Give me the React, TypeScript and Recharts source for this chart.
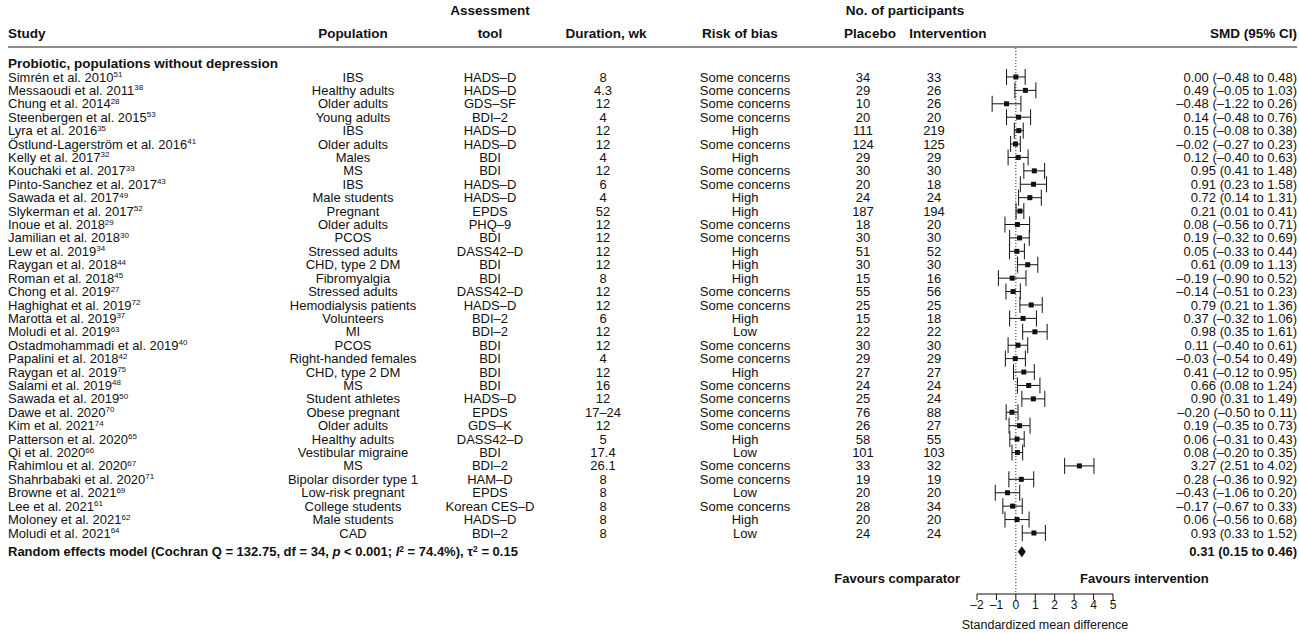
import React from "react"
import { ScatterChart, Scatter, XAxis, YAxis, ErrorBar, ReferenceLine } from "recharts"

const studies = [
  "Simrén et al. 2010", "Messaoudi et al. 2011", "Chung et al. 2014", "Steenbergen et al. 2015",
  "Lyra et al. 2016", "Östlund-Lagerström et al. 2016", "Kelly et al. 2017", "Kouchaki et al. 2017",
  "Pinto-Sanchez et al. 2017", "Sawada et al. 2017", "Slykerman et al. 2017", "Inoue et al. 2018",
  "Jamilian et al. 2018", "Lew et al. 2019", "Raygan et al. 2018", "Roman et al. 2018",
  "Chong et al. 2019", "Haghighat et al. 2019", "Marotta et al. 2019", "Moludi et al. 2019",
  "Ostadmohammadi et al. 2019", "Papalini et al. 2018", "Raygan et al. 2019", "Salami et al. 2019",
  "Sawada et al. 2019", "Dawe et al. 2020", "Kim et al. 2021", "Patterson et al. 2020",
  "Qi et al. 2020", "Rahimlou et al. 2020", "Shahrbabaki et al. 2020", "Browne et al. 2021",
  "Lee et al. 2021", "Moloney et al. 2021", "Moludi et al. 2021",
]
const refs = [
  51, 38, 28, 53, 35, 41, 32, 33, 43, 49, 52, 29, 30, 34, 44, 45, 27, 72,
  37, 63, 40, 42, 75, 48, 50, 70, 74, 65, 66, 67, 71, 69, 61, 62, 64,
]
const populations = [
  "IBS", "Healthy adults", "Older adults", "Young adults", "IBS", "Older adults", "Males", "MS",
  "IBS", "Male students", "Pregnant", "Older adults", "PCOS", "Stressed adults", "CHD, type 2 DM",
  "Fibromyalgia", "Stressed adults", "Hemodialysis patients", "Volunteers", "MI", "PCOS",
  "Right-handed females", "CHD, type 2 DM", "MS", "Student athletes", "Obese pregnant",
  "Older adults", "Healthy adults", "Vestibular migraine", "MS", "Bipolar disorder type 1",
  "Low-risk pregnant", "College students", "Male students", "CAD",
]
const tools = [
  "HADS–D", "HADS–D", "GDS–SF", "BDI–2", "HADS–D", "HADS–D", "BDI", "BDI", "HADS–D", "HADS–D",
  "EPDS", "PHQ–9", "BDI", "DASS42–D", "BDI", "BDI", "DASS42–D", "HADS–D", "BDI–2", "BDI–2",
  "BDI", "BDI", "BDI", "BDI", "HADS–D", "EPDS", "GDS–K", "DASS42–D", "BDI", "BDI–2",
  "HAM–D", "EPDS", "Korean CES–D", "HADS–D", "BDI–2",
]
const durations = [
  "8", "4.3", "12", "4", "12", "12", "4", "12", "6", "4", "52", "12", "12", "12", "12", "8",
  "12", "12", "6", "12", "12", "4", "12", "16", "12", "17–24", "12", "5", "17.4", "26.1",
  "8", "8", "8", "8", "8",
]
const risks = [
  "Some concerns", "Some concerns", "Some concerns", "Some concerns", "High", "Some concerns",
  "High", "Some concerns", "Some concerns", "High", "High", "Some concerns", "Some concerns",
  "High", "High", "High", "Some concerns", "Some concerns", "High", "Low", "Some concerns",
  "Some concerns", "High", "Some concerns", "Some concerns", "Some concerns", "Some concerns",
  "High", "Low", "Some concerns", "Some concerns", "Low", "Some concerns", "High", "Low",
]
const placebo = [
  34, 29, 10, 20, 111, 124, 29, 30, 20, 24, 187, 18, 30, 51, 30, 15, 55, 25,
  15, 22, 30, 29, 27, 24, 25, 76, 26, 58, 101, 33, 19, 20, 28, 20, 24,
]
const intervention = [
  33, 26, 26, 20, 219, 125, 29, 30, 18, 24, 194, 20, 30, 52, 30, 16, 56, 25,
  18, 22, 30, 29, 27, 24, 24, 88, 27, 55, 103, 32, 19, 20, 34, 20, 24,
]
const smd = [
  0.0, 0.49, -0.48, 0.14, 0.15, -0.02, 0.12, 0.95, 0.91, 0.72, 0.21, 0.08, 0.19, 0.05, 0.61,
  -0.19, -0.14, 0.79, 0.37, 0.98, 0.11, -0.03, 0.41, 0.66, 0.9, -0.2, 0.19, 0.06, 0.08, 3.27,
  0.28, -0.43, -0.17, 0.06, 0.93,
]
const ciLow = [
  -0.48, -0.05, -1.22, -0.48, -0.08, -0.27, -0.4, 0.41, 0.23, 0.14, 0.01, -0.56, -0.32, -0.33,
  0.09, -0.9, -0.51, 0.21, -0.32, 0.35, -0.4, -0.54, -0.12, 0.08, 0.31, -0.5, -0.35, -0.31,
  -0.2, 2.51, -0.36, -1.06, -0.67, -0.56, 0.33,
]
const ciHigh = [
  0.48, 1.03, 0.26, 0.76, 0.38, 0.23, 0.63, 1.48, 1.58, 1.31, 0.41, 0.71, 0.69, 0.44, 1.13,
  0.52, 0.23, 1.36, 1.06, 1.61, 0.61, 0.49, 0.95, 1.24, 1.49, 0.11, 0.73, 0.43, 0.35, 4.02,
  0.92, 0.2, 0.33, 0.68, 1.52,
]

const pooledSmd = 0.31
const pooledLow = 0.15
const pooledHigh = 0.46
const cochranQ = 132.75
const hetDf = 34
const hetP = "< 0.001"
const iSquared = 74.4
const tauSquared = 0.15

const groupTitle = "Probiotic, populations without depression"
const xTicks = [-2, -1, 0, 1, 2, 3, 4, 5]

// row positions (y axis is row index, top to bottom)
const HEADER_ROW = -5
const GROUP_ROW = -1
const POOLED_ROW = 35.4
const FAVOURS_ROW = 37.4

// column x positions
const COL = { study: 8, pop: 353, tool: 490, dur: 603, risk: 745, plac: 863, interv: 934, smd: 1297 }

const INK = "#111"
const FONT = "'Liberation Sans', Arial, Helvetica, sans-serif"

const fmt = (v: number) => (v < 0 ? "–" + Math.abs(v).toFixed(2) : v.toFixed(2))
const ciText = (m: number, lo: number, hi: number) => `${fmt(m)} (${fmt(lo)} to ${fmt(hi)})`

const rows = studies.map((s, i) => ({
  row: i,
  smd: smd[i],
  err: [smd[i] - ciLow[i], ciHigh[i] - smd[i]],
}))
const pooledPoints = [pooledLow, pooledSmd, pooledHigh].map((v) => ({ row: POOLED_ROW, smd: v }))
const rowTicks = [HEADER_ROW, GROUP_ROW, ...rows.map((r) => r.row), POOLED_ROW, FAVOURS_ROW]

const txt = { fontFamily: FONT, fontSize: 13, fill: INK }
const bold = { ...txt, fontWeight: 700 }
const head = { ...bold, fontSize: 13.5 }

function RowTick(props: any) {
  const { y, payload } = props
  const v = payload.value
  if (v === HEADER_ROW) {
    const y2 = y + 23.5
    return (
      <g>
        <text {...head} x={COL.tool} y={y} dy="0.35em" textAnchor="middle">Assessment</text>
        <text {...head} x={905} y={y} dy="0.35em" textAnchor="middle">No. of participants</text>
        <text {...head} x={COL.study} y={y2} dy="0.35em">Study</text>
        <text {...head} x={COL.pop} y={y2} dy="0.35em" textAnchor="middle">Population</text>
        <text {...head} x={COL.tool} y={y2} dy="0.35em" textAnchor="middle">tool</text>
        <text {...head} x={606} y={y2} dy="0.35em" textAnchor="middle">Duration, wk</text>
        <text {...head} x={740} y={y2} dy="0.35em" textAnchor="middle">Risk of bias</text>
        <text {...head} x={870} y={y2} dy="0.35em" textAnchor="middle">Placebo</text>
        <text {...head} x={948} y={y2} dy="0.35em" textAnchor="middle">Intervention</text>
        <text {...head} x={COL.smd} y={y2} dy="0.35em" textAnchor="end">SMD (95% CI)</text>
        <line x1={8} x2={1297} y1={y + 37} y2={y + 37} stroke="#8c8c8c" strokeWidth={2} />
      </g>
    )
  }
  if (v === GROUP_ROW) {
    return <text {...head} x={COL.study} y={y} dy="0.35em">{groupTitle}</text>
  }
  if (v === POOLED_ROW) {
    return (
      <g>
        <text {...bold} x={COL.study} y={y} dy="0.35em">
          {`Random effects model (Cochran Q = ${cochranQ}, df = ${hetDf}, `}
          <tspan fontStyle="italic">p</tspan>
          {` ${hetP}; `}
          <tspan fontStyle="italic">I</tspan>
          <tspan dy={-4.5} fontSize={8.5}>2</tspan>
          <tspan dy={4.5}>{` = ${iSquared}%), τ`}</tspan>
          <tspan dy={-4.5} fontSize={8.5}>2</tspan>
          <tspan dy={4.5}>{` = ${tauSquared}`}</tspan>
        </text>
        <text {...bold} x={COL.smd} y={y} dy="0.35em" textAnchor="end">
          {ciText(pooledSmd, pooledLow, pooledHigh)}
        </text>
      </g>
    )
  }
  if (v === FAVOURS_ROW) {
    return (
      <g>
        <text {...bold} x={960} y={y} dy="0.35em" textAnchor="end">Favours comparator</text>
        <text {...bold} x={1080} y={y} dy="0.35em">Favours intervention</text>
      </g>
    )
  }
  const i = v as number
  if (!Number.isInteger(i) || i < 0 || i >= studies.length) return null
  return (
    <g>
      <text {...txt} x={COL.study} y={y} dy="0.35em">
        {studies[i]}
        <tspan fontSize={8} dy={-4.5}>{refs[i]}</tspan>
      </text>
      <text {...txt} x={COL.pop} y={y} dy="0.35em" textAnchor="middle">{populations[i]}</text>
      <text {...txt} x={COL.tool} y={y} dy="0.35em" textAnchor="middle">{tools[i]}</text>
      <text {...txt} x={COL.dur} y={y} dy="0.35em" textAnchor="middle">{durations[i]}</text>
      <text {...txt} x={COL.risk} y={y} dy="0.35em" textAnchor="middle">{risks[i]}</text>
      <text {...txt} x={COL.plac} y={y} dy="0.35em" textAnchor="middle">{placebo[i]}</text>
      <text {...txt} x={COL.interv} y={y} dy="0.35em" textAnchor="middle">{intervention[i]}</text>
      <text {...txt} x={COL.smd} y={y} dy="0.35em" textAnchor="end">{ciText(smd[i], ciLow[i], ciHigh[i])}</text>
    </g>
  )
}

const Square = (p: any) => <rect x={p.cx - 2.5} y={p.cy - 2.5} width={5} height={5} fill={INK} />

const Diamond = (p: any) => {
  const [a, b, c] = p.points
  return (
    <polygon
      points={`${a.x - 1},${a.y} ${b.x},${b.y - 5.5} ${c.x + 1},${c.y} ${b.x},${b.y + 5.5}`}
      fill={INK}
    />
  )
}

export default function App() {
  return (
    <div style={{ position: "absolute", left: 0, top: 0, background: "#fff" }}>
      <ScatterChart width={1299} height={633} margin={{ top: 3.2, right: 186, bottom: 0, left: 976 }}>
        <XAxis
          type="number"
          dataKey="smd"
          domain={[-2, 5]}
          ticks={xTicks}
          interval={0}
          allowDataOverflow
          height={39}
          tickSize={6}
          tickMargin={0}
          tickFormatter={(v: number) => (v < 0 ? "–" + Math.abs(v) : String(v))}
          tick={{ ...txt, fontSize: 12 }}
          axisLine={{ stroke: INK }}
          tickLine={{ stroke: INK }}
          label={{ value: "Standardized mean difference", position: "insideBottom", offset: 4, style: { ...txt, fontSize: 12.5 } }}
        />
        <YAxis
          type="number"
          dataKey="row"
          domain={[-5.5, 38.55]}
          reversed
          allowDataOverflow
          ticks={rowTicks}
          interval={0}
          width={1}
          axisLine={false}
          tickLine={false}
          tick={<RowTick />}
        />
        <ReferenceLine
          segment={[{ x: 0, y: -2.15 }, { x: 0, y: 38.55 }]}
          stroke={INK}
          strokeDasharray="1 2"
        />
        <Scatter data={rows} shape={Square} isAnimationActive={false}>
          <ErrorBar dataKey="err" direction="x" width={8} stroke={INK} strokeWidth={1} />
        </Scatter>
        <Scatter data={pooledPoints} shape={() => <g />} line={Diamond} isAnimationActive={false} />
      </ScatterChart>
    </div>
  )
}
